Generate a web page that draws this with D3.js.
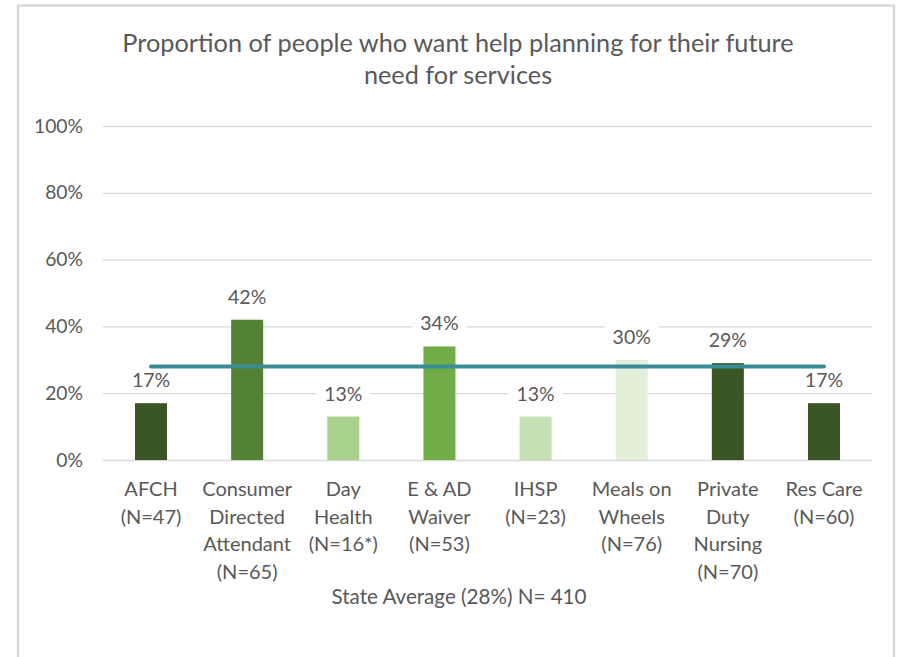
<!DOCTYPE html>
<html>
<head>
<meta charset="utf-8">
<script src="https://cdn.jsdelivr.net/npm/d3@7"></script>
<style>
  html, body { margin: 0; padding: 0; background: #fff; }
  svg text { font-family: Lato, "Open Sans", sans-serif; fill: #595959; }
</style>
</head>
<body>
<svg id="chart" width="899" height="657"></svg>
<script>
// Program names with respondent counts, one array entry per printed line
const categoryLines = [
  ["AFCH", "(N=47)"],
  ["Consumer", "Directed", "Attendant", "(N=65)"],
  ["Day", "Health", "(N=16*)"],
  ["E & AD", "Waiver", "(N=53)"],
  ["IHSP", "(N=23)"],
  ["Meals on", "Wheels", "(N=76)"],
  ["Private", "Duty", "Nursing", "(N=70)"],
  ["Res Care", "(N=60)"]
];
const categories = categoryLines.map(l => l.join(" "));
const values = [0.17, 0.42, 0.13, 0.34, 0.13, 0.30, 0.29, 0.17];
const barColors = ["#375623", "#548235", "#a9d18e", "#70ad47", "#c5e0b4", "#e2efda", "#375623", "#375623"];
const stateAverage = 0.28;
const yTicks = [0, 0.2, 0.4, 0.6, 0.8, 1.0];
const titleLines = ["Proportion of people who want help planning for their future", "need for services"];
const xTitle = "State Average (28%) N= 410";

const svg = d3.select("#chart");

// chart frame
svg.append("rect")
  .attr("x", 18).attr("y", 5.5).attr("width", 876).attr("height", 700)
  .attr("fill", "#fff").attr("stroke", "#d9d9d9").attr("stroke-width", 2.5);

const x = d3.scaleBand().domain(categories).range([103, 872])
  .paddingInner(0.667).paddingOuter(0.333);
const y = d3.scaleLinear().domain([0, 1]).range([460, 126]);

// title
svg.append("text")
  .attr("x", 458).attr("y", 52).attr("text-anchor", "middle")
  .style("font-size", "25.3px")
  .selectAll("tspan").data(titleLines).join("tspan")
  .attr("x", 458).attr("dy", (d, i) => i ? 32 : 0).text(d => d);

// gridlines and y axis labels
const yAxis = d3.axisLeft(y).tickValues(yTicks).tickFormat(d3.format(".0%"))
  .tickSize(-(872 - 103)).tickPadding(20);
const yg = svg.append("g").attr("transform", "translate(103,0)").call(yAxis);
yg.select(".domain").remove();
yg.selectAll(".tick line").attr("stroke", "#d9d9d9").attr("stroke-width", 1.3);
yg.selectAll(".tick text").style("font-size", "19.3px").attr("fill", "#595959")
  .style("font-family", null);

// value labels with white backing that breaks the gridlines
const lbl = svg.append("g").selectAll("g").data(values).join("g")
  .attr("transform", (d, i) => `translate(${x(categories[i]) + x.bandwidth() / 2},${y(d) - 23})`);
lbl.append("rect").attr("x", -27).attr("y", -12).attr("width", 54).attr("height", 24).attr("fill", "#fff");
lbl.append("text").attr("text-anchor", "middle").attr("dy", "0.36em")
  .style("font-size", "19.5px").text(d => Math.round(d * 100) + "%");

// bars
svg.append("g").selectAll("rect").data(values).join("rect")
  .attr("x", (d, i) => x(categories[i]))
  .attr("width", x.bandwidth())
  .attr("y", d => y(d))
  .attr("height", d => y(0) - y(d))
  .attr("fill", (d, i) => barColors[i]);

// state average line across the bar centres
svg.append("line")
  .attr("x1", x(categories[0]) + x.bandwidth() / 2)
  .attr("x2", x(categories[categories.length - 1]) + x.bandwidth() / 2)
  .attr("y1", y(stateAverage)).attr("y2", y(stateAverage))
  .attr("stroke", "#3a8c97").attr("stroke-width", 4).attr("stroke-linecap", "round");

// category labels
const xl = svg.append("g").selectAll("text").data(categoryLines).join("text")
  .attr("text-anchor", "middle").style("font-size", "20px")
  .attr("transform", (d, i) => `translate(${x(categories[i]) + x.bandwidth() / 2},496)`);
xl.selectAll("tspan").data(d => d).join("tspan")
  .attr("x", 0).attr("y", (d, i) => i * 27.5).text(d => d);

// axis title
svg.append("text").attr("x", 459).attr("y", 604).attr("text-anchor", "middle")
  .style("font-size", "20.6px").text(xTitle);
</script>
</body>
</html>
